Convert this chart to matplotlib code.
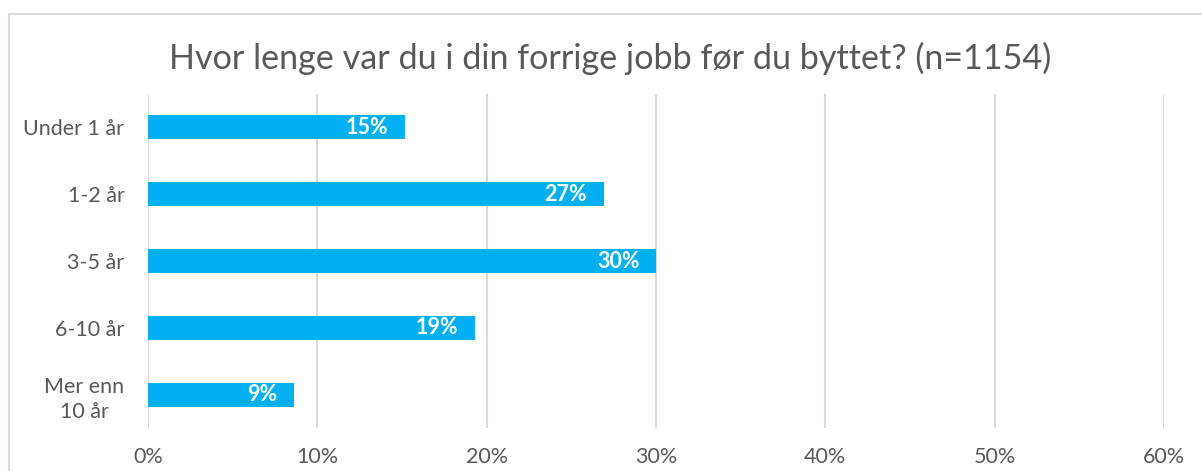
import matplotlib
matplotlib.use("Agg")
import matplotlib.pyplot as plt
from matplotlib.patches import Rectangle

categories = ["Under 1 år", "1-2 år", "3-5 år", "6-10 år", "Mer enn\n10 år"]
values = [15.2, 26.9, 30.0, 19.3, 8.6]
labels = ["15%", "27%", "30%", "19%", "9%"]
xticks = [0, 10, 20, 30, 40, 50, 60]
xticklabels = ["0%", "10%", "20%", "30%", "40%", "50%", "60%"]
title = "Hvor lenge var du i din forrige jobb før du byttet? (n=1154)"

W, H = 1202, 471
fig = plt.figure(figsize=(W / 100, H / 100), dpi=100)
plt.rcParams['font.family'] = ['Lato', 'DejaVu Sans']

text_color = "#595959"
grid_color = "#D9D9D9"
bar_color = "#00B0F0"

# chart border
fig.patches.append(Rectangle((9 / W, -0.1), 1.2, 1 - 14 / H + 0.1, transform=fig.transFigure,
                             fill=False, edgecolor=grid_color, linewidth=1.5))

ax = fig.add_axes([148 / W, 1 - 428 / H, (1164 - 148) / W, (428 - 94) / H])
y = list(range(len(categories)))
ax.barh(y, values, height=0.36, color=bar_color, zorder=3)
ax.set_ylim(len(categories) - 0.5, -0.5)
ax.set_xlim(0, 60)
ax.set_xticks(xticks)
ax.set_xticklabels(xticklabels, fontsize=15.5, color=text_color)
ax.set_yticks(y)
ax.set_yticklabels(categories, fontsize=15.5, color=text_color, linespacing=1.35,
                   multialignment='center')
ax.tick_params(axis='both', length=0)
ax.tick_params(axis='x', pad=14)
ax.tick_params(axis='y', pad=17)
for s in ax.spines.values():
    s.set_visible(False)
ax.grid(axis='x', color=grid_color, linewidth=1.5, zorder=0)
ax.set_axisbelow(True)

for yi, v, lab in zip(y, values, labels):
    ax.annotate(lab, xy=(v, yi), xytext=(-12, 0), textcoords='offset points',
                ha='right', va='center', color='white', fontsize=15.5, fontweight='bold', zorder=4)

fig.text((168 + 1053) / 2 / W, 1 - 58 / H, title, ha='center', va='center',
         fontsize=24.6, color=text_color)

fig.savefig("out.png", dpi=100)
